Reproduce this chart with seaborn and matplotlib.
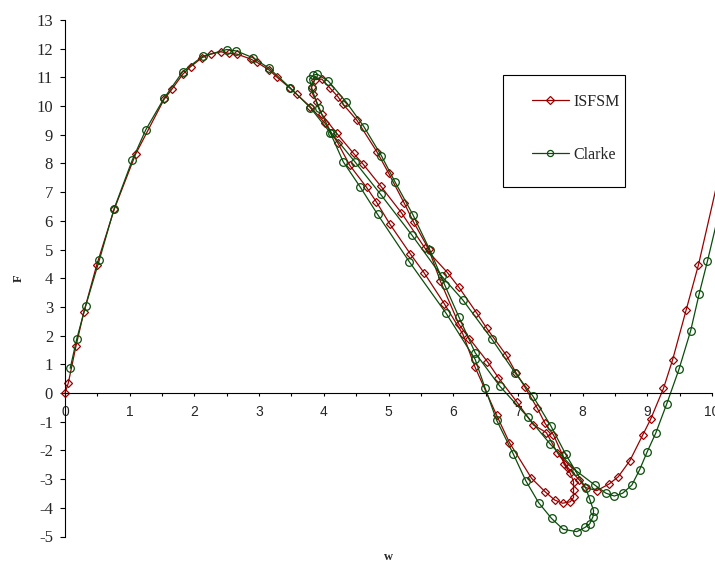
import numpy as np
import pandas as pd
import matplotlib
matplotlib.use("Agg")
import matplotlib.pyplot as plt
from matplotlib.ticker import MultipleLocator
import seaborn as sns

# points, (w, F), in the order each curve is traced

# ISFSM
isfsm_rise = [(0, 0), (0.05, 0.34), (0.17, 1.64), (0.29, 2.81), (0.49, 4.46),
              (0.76, 6.40), (1.09, 8.32), (1.53, 10.23), (1.65, 10.58),
              (1.82, 11.11), (1.94, 11.37), (2.12, 11.69), (2.25, 11.81),
              (2.41, 11.89), (2.53, 11.84), (2.66, 11.81), (2.87, 11.64),
              (2.97, 11.52), (3.16, 11.25), (3.27, 11.02), (3.47, 10.64),
              (3.58, 10.41), (3.79, 9.98)]
isfsm_down = [(4.02, 9.40), (4.22, 8.70), (4.40, 7.94), (4.66, 7.17),
              (4.81, 6.67), (5.02, 5.89), (5.34, 4.84), (5.55, 4.19),
              (5.86, 3.12), (6.15, 2.05), (6.34, 0.89), (6.67, -0.77),
              (6.87, -1.73), (7.21, -2.97), (7.42, -3.44), (7.57, -3.73),
              (7.69, -3.84), (7.81, -3.79), (7.86, -3.64), (7.86, -3.38),
              (7.86, -3.09)]
isfsm_back = [(7.81, -2.80), (7.71, -2.47), (7.69, -2.16), (7.55, -1.46),
              (7.42, -1.06), (7.30, -0.53), (7.11, 0.20), (6.97, 0.71),
              (6.82, 1.32), (6.52, 2.25), (6.36, 2.80), (6.09, 3.68),
              (5.91, 4.20), (5.56, 5.06), (5.20, 6.28), (4.88, 7.21),
              (4.61, 7.97), (4.46, 8.35), (4.20, 9.05), (3.97, 9.71),
              (3.89, 10.15), (3.83, 10.41), (3.81, 10.65)]
isfsm_upper = [(3.86, 10.92), (3.97, 10.94), (4.10, 10.62), (4.22, 10.32),
               (4.30, 10.06), (4.51, 9.51), (4.82, 8.41), (5.00, 7.67),
               (5.24, 6.63), (5.39, 5.95), (5.62, 5.02), (5.80, 3.91),
               (6.09, 2.39), (6.25, 1.90), (6.53, 1.09), (6.70, 0.53),
               (6.98, -0.30), (7.24, -1.11), (7.44, -1.38), (7.61, -2.08),
               (7.78, -2.62), (7.95, -3.03)]
isfsm_end = [(8.04, -3.29), (8.22, -3.40), (8.41, -3.17), (8.55, -2.92),
             (8.73, -2.36), (8.93, -1.46), (9.05, -0.92), (9.25, 0.16),
             (9.39, 1.15), (9.60, 2.89), (9.79, 4.46), (10.12, 7.70)]

# Clarke
clarke_rise = [(0.08, 0.86), (0.18, 1.87), (0.32, 3.04), (0.53, 4.63),
               (0.76, 6.43), (1.04, 8.12), (1.25, 9.18), (1.53, 10.27),
               (1.82, 11.20), (2.13, 11.74), (2.50, 11.97), (2.65, 11.92),
               (2.90, 11.69), (3.16, 11.31), (3.48, 10.64), (3.79, 9.95)]
clarke_down = [(4.10, 9.07), (4.30, 8.06), (4.56, 7.19), (4.83, 6.23),
               (5.32, 4.58), (5.89, 2.78), (6.34, 1.17), (6.49, 0.19),
               (6.67, -0.94), (6.93, -2.13), (7.12, -3.05), (7.32, -3.82),
               (7.52, -4.37), (7.70, -4.75), (7.91, -4.83), (8.04, -4.68),
               (8.11, -4.56), (8.16, -4.31), (8.17, -4.10)]
clarke_back = [(8.11, -3.70), (8.05, -3.32), (7.74, -2.14), (7.51, -1.15),
               (7.23, -0.10), (6.96, 0.69), (6.60, 1.87), (6.15, 3.24),
               (5.82, 4.08), (5.36, 5.51), (4.88, 6.92), (4.48, 8.06),
               (4.12, 9.05), (3.92, 9.92), (3.81, 10.64)]
clarke_upper = [(3.78, 10.94), (3.84, 11.08), (3.90, 11.11), (4.07, 10.87),
                (4.35, 10.13), (4.62, 9.28), (4.89, 8.27), (5.10, 7.36),
                (5.38, 6.20), (5.64, 4.98), (5.87, 3.76), (6.09, 2.64),
                (6.34, 1.40), (6.72, 0.24), (7.15, -0.83), (7.50, -1.78),
                (7.90, -2.71)]
clarke_end = [(8.19, -3.21), (8.36, -3.49), (8.49, -3.59), (8.62, -3.49),
              (8.76, -3.21), (8.88, -2.68), (9.00, -2.04), (9.13, -1.40),
              (9.30, -0.38), (9.49, 0.83), (9.67, 2.17), (9.80, 3.44),
              (9.93, 4.60), (10.12, 6.40)]


def to_frame(*segments):
    pts = [p for seg in segments for p in seg]
    return pd.DataFrame(pts, columns=["w", "F"])


isfsm = to_frame(isfsm_rise, isfsm_down, isfsm_back, isfsm_upper, isfsm_end)
clarke = to_frame(clarke_rise, clarke_down, clarke_back, clarke_upper, clarke_end)

red = "#990000"
green = "#0a4d0a"

sns.set_style("ticks")
plt.rcParams["font.family"] = ["Liberation Serif", "DejaVu Serif"]
plt.rcParams["axes.unicode_minus"] = False

fig = plt.figure(figsize=(7.15, 5.65), dpi=100)
ax = fig.add_axes([65 / 715, 28.5 / 565, 647 / 715, 516.5 / 565])

sns.lineplot(data=isfsm, x="w", y="F", sort=False, estimator=None, ax=ax,
             color=red, lw=0.9, marker="D", ms=4.5, mfc="none", mec=red,
             mew=0.9, label="ISFSM", clip_on=False)
sns.lineplot(data=clarke, x="w", y="F", sort=False, estimator=None, ax=ax,
             color=green, lw=0.9, marker="o", ms=5.5, mfc="none", mec=green,
             mew=0.9, label="Clarke", clip_on=False)

ax.set_xlim(0, 10)
ax.set_ylim(-5, 13)
ax.xaxis.set_major_locator(MultipleLocator(1))
ax.xaxis.set_minor_locator(MultipleLocator(0.5))
ax.yaxis.set_major_locator(MultipleLocator(1))

for s in ["top", "right"]:
    ax.spines[s].set_visible(False)
ax.spines["bottom"].set_position(("data", 0))
for s in ["left", "bottom"]:
    ax.spines[s].set_color("black")
    ax.spines[s].set_linewidth(0.8)

ax.tick_params(axis="x", which="both", direction="out", length=2.5, width=0.8,
               color="black", pad=6, labelsize=10,
               labelfontfamily="Liberation Sans")
ax.tick_params(axis="y", direction="out", length=3.6, width=0.8,
               color="black", pad=5, labelsize=12)

ax.set_xlabel("w", fontsize=9, fontweight="bold")
ax.set_ylabel("F", fontsize=9, fontweight="bold")
ax.xaxis.set_label_coords(0.5, -0.028)
ax.yaxis.set_label_coords((25 - 65) / 647, 0.5)

leg = ax.legend(loc="upper left", bbox_to_anchor=(532 / 715, 1 - 94 / 565),
                bbox_transform=fig.transFigure, frameon=False, fontsize=11.5,
                labelspacing=2.3, borderpad=0, borderaxespad=0,
                handlelength=2.3, handletextpad=0.3, markerscale=0.8)
fig.add_artist(plt.Rectangle((503 / 715, 1 - 187 / 565), (625 - 503) / 715,
                             (187 - 75) / 565, transform=fig.transFigure,
                             fill=False, ec="black", lw=0.8))

fig.savefig("out.png", dpi=100)
